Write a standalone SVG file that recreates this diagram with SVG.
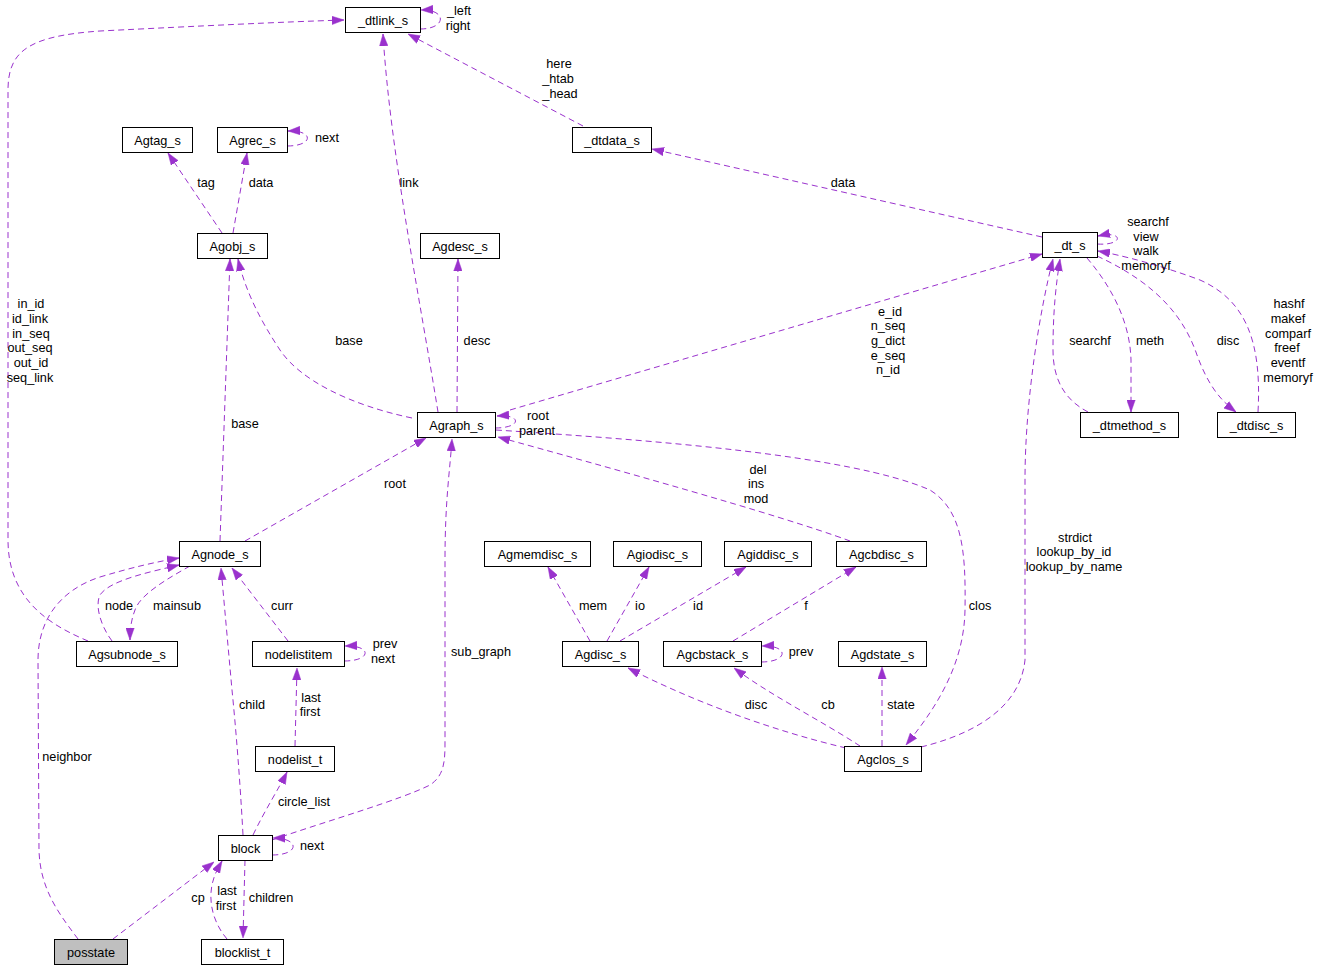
<svg xmlns="http://www.w3.org/2000/svg" width="1320" height="971" viewBox="0 0 1320 971">
<style>
.n rect{fill:#fff;stroke:#000;stroke-width:1}
.n text{font-family:"Liberation Sans",Arial,sans-serif;font-size:12.7px;text-anchor:middle;fill:#000}
.e path{fill:none;stroke:#9a32cd;stroke-width:1;stroke-dasharray:6,4;marker-end:url(#ah)}
.l text{font-family:"Liberation Sans",Arial,sans-serif;font-size:12.7px;text-anchor:middle;fill:#000}
</style>
<defs>
<marker id="ah" viewBox="0 0 12 9" refX="12" refY="4.5" markerWidth="12" markerHeight="9" markerUnits="userSpaceOnUse" orient="auto">
<path d="M0,0.3 L12,4.5 L0,8.7 z" fill="#9a32cd" stroke="#9a32cd" stroke-width="0.5"/>
</marker>
</defs>
<rect width="1320" height="971" fill="#fff"/>
<g id="connectors" class="e">
<path d="M420,29 C447,29 447,9 421,10"/>
<path d="M583,126 L408,34"/>
<path d="M438,412 C420,300 390,150 383,34"/>
<path d="M88,641 C50,625 8,600 8,540 L8,90 C8,50 30,36 100,31 C200,26 280,22 344,20"/>
<path d="M222,233 L168,153"/>
<path d="M233,233 L247,153"/>
<path d="M287,146 C314,146 314,130 288,131"/>
<path d="M1042,237 L652,149"/>
<path d="M1097,244 C1124,246 1124,230 1098,236"/>
<path d="M1258,412 C1262,340 1245,300 1200,280 C1160,265 1120,255 1098,251"/>
<path d="M1097,256 C1160,285 1185,320 1197,355 C1208,385 1220,400 1236,412"/>
<path d="M1087,258 C1110,285 1130,320 1131,360 L1131,412"/>
<path d="M1088,412 C1065,400 1053,380 1053,350 C1053,310 1056,285 1060,259"/>
<path d="M921,747 C970,735 1020,710 1025,660 L1025,480 C1025,400 1040,310 1053,259"/>
<path d="M510,410 L1042,254"/>
<path d="M495,428 C522,428 522,414 497,416"/>
<path d="M496,430 C650,440 850,455 930,490 C962,510 966,550 965,610 C964,670 930,715 906,745"/>
<path d="M850,541 C780,515 600,465 498,437"/>
<path d="M457,412 L458,259"/>
<path d="M412,418 C350,405 300,380 280,350 C260,320 245,290 238,259"/>
<path d="M220,541 L230,259"/>
<path d="M245,541 L426,438"/>
<path d="M272,840 C330,820 400,800 430,785 C445,775 445,760 445,740 L445,560 C445,500 450,470 452,439"/>
<path d="M112,641 C100,625 95,605 100,595 C110,580 150,572 179,565"/>
<path d="M78,939 C60,915 40,890 39,850 L38,660 C38,620 60,590 100,577 C130,568 155,562 179,558"/>
<path d="M190,566 C165,580 140,595 135,610 C131,620 130,630 130,640"/>
<path d="M288,641 L232,568"/>
<path d="M344,661 C372,661 372,645 345,646"/>
<path d="M295,746 L297,668"/>
<path d="M243,835 C240,780 236,730 232,690 L221,568"/>
<path d="M253,835 C265,810 278,790 287,772"/>
<path d="M272,855 C300,855 300,838 273,838"/>
<path d="M245,860 L243,938"/>
<path d="M227,939 C215,925 208,905 212,885 C214,875 218,868 222,861"/>
<path d="M113,939 L214,862"/>
<path d="M590,641 L548,567"/>
<path d="M607,641 L649,567"/>
<path d="M620,641 L746,567"/>
<path d="M733,641 L856,567"/>
<path d="M761,662 C789,662 789,645 762,646"/>
<path d="M846,748 C770,730 690,700 628,668"/>
<path d="M860,746 C820,720 770,695 734,668"/>
<path d="M882,746 L882,667"/>
</g>
<g id="labels" class="l">
<text x="459" y="15">_left</text><text x="458" y="30">right</text>
<text x="559" y="68">here</text><text x="558" y="83">_htab</text><text x="560" y="98">_head</text>
<text x="327" y="142">next</text>
<text x="206" y="187">tag</text><text x="261" y="187">data</text>
<text x="409" y="187">link</text>
<text x="843" y="187">data</text>
<text x="1148" y="226">searchf</text><text x="1146" y="241">view</text><text x="1146" y="255">walk</text><text x="1146" y="270">memoryf</text>
<text x="1289" y="308">hashf</text><text x="1288" y="323">makef</text><text x="1288" y="338">comparf</text><text x="1287" y="352">freef</text><text x="1288" y="367">eventf</text><text x="1288" y="382">memoryf</text>
<text x="1090" y="345">searchf</text><text x="1150" y="345">meth</text><text x="1228" y="345">disc</text>
<text x="890" y="316">e_id</text><text x="888" y="330">n_seq</text><text x="888" y="345">g_dict</text><text x="888" y="360">e_seq</text><text x="888" y="374">n_id</text>
<text x="349" y="345">base</text><text x="477" y="345">desc</text>
<text x="31" y="308">in_id</text><text x="30" y="323">id_link</text><text x="31" y="338">in_seq</text><text x="30" y="352">out_seq</text><text x="31" y="367">out_id</text><text x="30" y="382">seq_link</text>
<text x="538" y="420">root</text><text x="537" y="435">parent</text>
<text x="245" y="428">base</text>
<text x="395" y="488">root</text>
<text x="758" y="474">del</text><text x="756" y="488">ins</text><text x="756" y="503">mod</text>
<text x="1075" y="542">strdict</text><text x="1074" y="556">lookup_by_id</text><text x="1074" y="571">lookup_by_name</text>
<text x="119" y="610">node</text><text x="177" y="610">mainsub</text><text x="282" y="610">curr</text>
<text x="593" y="610">mem</text><text x="640" y="610">io</text><text x="698" y="610">id</text><text x="806" y="610">f</text><text x="980" y="610">clos</text>
<text x="385" y="648">prev</text><text x="383" y="663">next</text>
<text x="481" y="656">sub_graph</text>
<text x="801" y="656">prev</text>
<text x="311" y="702">last</text><text x="310" y="716">first</text>
<text x="252" y="709">child</text>
<text x="756" y="709">disc</text><text x="828" y="709">cb</text><text x="901" y="709">state</text>
<text x="67" y="761">neighbor</text>
<text x="304" y="806">circle_list</text>
<text x="312" y="850">next</text>
<text x="227" y="895">last</text><text x="226" y="910">first</text>
<text x="198" y="902">cp</text><text x="271" y="902">children</text>
</g>
<g id="n_dtlink" class="n"><rect x="345.5" y="7.5" width="75" height="25"/><text x="383" y="24.5">_dtlink_s</text></g>
<g id="n_dtdata" class="n"><rect x="572.5" y="127.5" width="79" height="25"/><text x="612" y="144.5">_dtdata_s</text></g>
<g id="n_agtag" class="n"><rect x="122.5" y="127.5" width="70" height="25"/><text x="157.5" y="144.5">Agtag_s</text></g>
<g id="n_agrec" class="n"><rect x="217.5" y="127.5" width="70" height="25"/><text x="252.5" y="144.5">Agrec_s</text></g>
<g id="n_agobj" class="n"><rect x="197.5" y="233.5" width="70" height="25"/><text x="232.5" y="250.5">Agobj_s</text></g>
<g id="n_agdesc" class="n"><rect x="420.5" y="233.5" width="79" height="25"/><text x="460" y="250.5">Agdesc_s</text></g>
<g id="n_dt" class="n"><rect x="1042.5" y="232.5" width="55" height="25"/><text x="1070" y="249.5">_dt_s</text></g>
<g id="n_dtmethod" class="n"><rect x="1080.5" y="412.5" width="98" height="25"/><text x="1129.5" y="429.5">_dtmethod_s</text></g>
<g id="n_dtdisc" class="n"><rect x="1217.5" y="412.5" width="78" height="25"/><text x="1256.5" y="429.5">_dtdisc_s</text></g>
<g id="n_agraph" class="n"><rect x="417.5" y="412.5" width="78" height="25"/><text x="456.5" y="429.5">Agraph_s</text></g>
<g id="n_agnode" class="n"><rect x="179.5" y="541.5" width="81" height="25"/><text x="220" y="558.5">Agnode_s</text></g>
<g id="n_agmemdisc" class="n"><rect x="484.5" y="541.5" width="106" height="25"/><text x="537.5" y="558.5">Agmemdisc_s</text></g>
<g id="n_agiodisc" class="n"><rect x="613.5" y="541.5" width="88" height="25"/><text x="657.5" y="558.5">Agiodisc_s</text></g>
<g id="n_agiddisc" class="n"><rect x="724.5" y="541.5" width="87" height="25"/><text x="768" y="558.5">Agiddisc_s</text></g>
<g id="n_agcbdisc" class="n"><rect x="836.5" y="541.5" width="90" height="25"/><text x="881.5" y="558.5">Agcbdisc_s</text></g>
<g id="n_agsubnode" class="n"><rect x="76.5" y="641.5" width="101" height="25"/><text x="127" y="658.5">Agsubnode_s</text></g>
<g id="n_nodelistitem" class="n"><rect x="252.5" y="641.5" width="92" height="25"/><text x="298.5" y="658.5">nodelistitem</text></g>
<g id="n_agdisc" class="n"><rect x="562.5" y="641.5" width="76" height="25"/><text x="600.5" y="658.5">Agdisc_s</text></g>
<g id="n_agcbstack" class="n"><rect x="663.5" y="641.5" width="98" height="25"/><text x="712.5" y="658.5">Agcbstack_s</text></g>
<g id="n_agdstate" class="n"><rect x="838.5" y="641.5" width="88" height="25"/><text x="882.5" y="658.5">Agdstate_s</text></g>
<g id="n_nodelist" class="n"><rect x="255.5" y="746.5" width="79" height="25"/><text x="295" y="763.5">nodelist_t</text></g>
<g id="n_agclos" class="n"><rect x="844.5" y="746.5" width="77" height="25"/><text x="883" y="763.5">Agclos_s</text></g>
<g id="n_block" class="n"><rect x="218.5" y="835.5" width="54" height="25"/><text x="245.5" y="852.5">block</text></g>
<g id="n_posstate" class="n"><rect x="54.5" y="939.5" width="73" height="25" style="fill:#bfbfbf"/><text x="91" y="956.5">posstate</text></g>
<g id="n_blocklist" class="n"><rect x="201.5" y="939.5" width="82" height="25"/><text x="242.5" y="956.5">blocklist_t</text></g>
</svg>
